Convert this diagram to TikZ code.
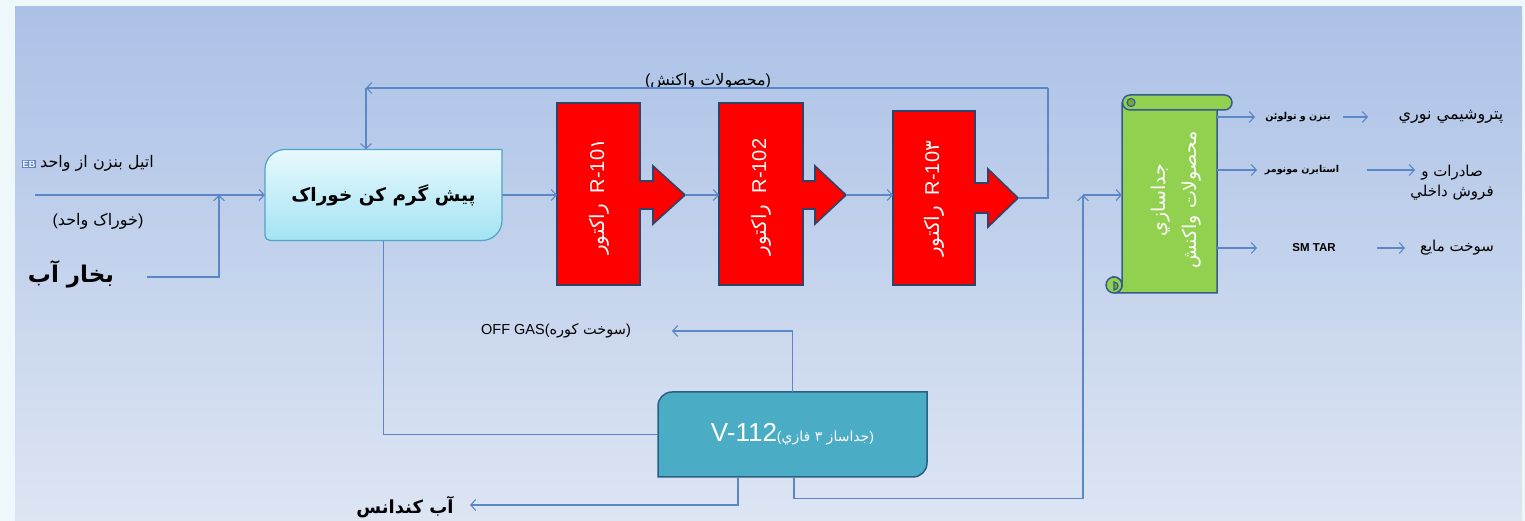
\documentclass[tikz,border=0pt]{standalone}
\usepackage{fontspec}
\setmainfont{Liberation Sans}
\newfontfamily\fa[Script=Arabic]{DejaVu Sans}
\TeXXeTstate=1
\usetikzlibrary{arrows.meta,calc}

\definecolor{bgouter}{HTML}{EEF8FA}
\definecolor{bgtop}{HTML}{ABC1E6}
\definecolor{bgbot}{HTML}{DDE5F3}
\definecolor{flow}{HTML}{5B87C6}
\definecolor{redR}{HTML}{FF0000}
\definecolor{redborder}{HTML}{2F4468}
\definecolor{phtop}{HTML}{E8F9FD}
\definecolor{phbot}{HTML}{A3E3F3}
\definecolor{phborder}{HTML}{4FA3C8}
\definecolor{vfill}{HTML}{4BACC6}
\definecolor{vborder}{HTML}{2B5F82}
\definecolor{scrollfill}{HTML}{92D050}
\definecolor{scrollborder}{HTML}{355C8C}
\definecolor{ebblue}{HTML}{5F82C8}

\newcommand\fatxt[1]{{\fa\beginR #1\endR}}

\tikzset{
  flowline/.style={draw=flow, line width=1.1pt},
  arr/.style={flowline, -{Straight Barb[length=5pt,width=11pt]}},
  lbl/.style={inner sep=0pt, text=black},
  reactorbody/.style={fill=redR, draw=redborder, line width=1.6pt, line join=miter},
  reactortext/.style={rotate=90, text=white, inner sep=0pt, font=\fontsize{20}{24}\selectfont},
  boxanchor/.style={inner sep=0pt, draw=none},
}

\begin{document}
\begin{tikzpicture}[x=1pt,y=1pt]
\useasboundingbox (0,0) rectangle (1525,521);
\fill[bgouter] (0,0) rectangle (1525,521);
\shade[top color=bgtop, bottom color=bgbot] (15,0) rectangle (1522,514);

% ---------- preheater ----------
\draw[draw=phborder, line width=1.2pt, top color=phtop, bottom color=phbot]
  (265,285.5) -- (265,351.5) arc[start angle=180, end angle=90, radius=20]
  -- (502,371.5) -- (502,300.5) arc[start angle=0, end angle=-90, radius=20]
  -- (270,280.5) arc[start angle=270, end angle=180, radius=5] -- cycle;
\node[boxanchor, minimum width=237pt, minimum height=91pt] (ph) at (383.5,326)
  {\fontsize{18.5}{22}\selectfont\bfseries\fatxt{پیش گرم کن خوراک}};

% ---------- reactors ----------
\draw[reactorbody] (557,236) -- (557,418) -- (640,418) -- (640,340) -- (653,340)
  -- (653,355) -- (685,326) -- (653,297) -- (653,312) -- (640,312) -- (640,236) -- cycle;
\draw[reactorbody] (719,236) -- (719,418) -- (803,418) -- (803,340) -- (815,340)
  -- (815,355) -- (846,326) -- (815,297) -- (815,312) -- (803,312) -- (803,236) -- cycle;
\draw[reactorbody] (893,236) -- (893,410) -- (975,410) -- (975,338) -- (988,338)
  -- (988,352) -- (1018,323) -- (988,294) -- (988,308) -- (975,308) -- (975,236) -- cycle;

\node[reactortext] (r1) at (599,324) {\fatxt{راکتور}\ \ R-10{\fa ۱}};
\node[reactortext] (r2) at (761,324) {\fatxt{راکتور}\ \ R-102};
\node[reactortext] (r3) at (934,322) {\fatxt{راکتور}\ \ R-10{\fa ۳}};

\coordinate (r1in) at (557,326);
\coordinate (r1out) at (685,326);
\coordinate (r2in) at (719,326);
\coordinate (r2out) at (846,326);
\coordinate (r3in) at (893,326);
\coordinate (r3out) at (1018,323);

% ---------- scroll separator ----------
\draw[fill=scrollfill, draw=scrollborder, line width=1.5pt]
  (1122,236) -- (1122,418) -- (1217,418) -- (1217,228) -- (1114,228)
  arc[start angle=-90, end angle=90, radius=8] -- cycle;
\draw[fill=scrollfill, draw=scrollborder, line width=1.5pt]
  (1114,228) arc[start angle=-90, end angle=270, radius=8];
\draw[draw=scrollborder, line width=1.2pt, fill=scrollfill!80!black]
  (1114,231) arc[start angle=-90, end angle=90, radius=4] -- cycle;
\draw[fill=scrollfill, draw=scrollborder, line width=1.5pt]
  (1130,411) -- (1224.5,411) arc[start angle=-90, end angle=90, radius=7.5]
  -- (1130,426) arc[start angle=90, end angle=270, radius=7.5] -- cycle;
\draw[draw=scrollborder, line width=1.2pt, fill=scrollfill!80!black]
  (1131,418.5) circle[radius=4];
\node[boxanchor, minimum width=95pt, minimum height=190pt] (sc) at (1169.5,323) {};
\node[rotate=90, text=white, align=center, inner sep=0pt,
  font=\fontsize{19}{31}\selectfont] (sctext) at (1176,321)
  {\fatxt{جداسازي}\\\fatxt{محصولات واکنش}};

% ---------- V-112 ----------
\draw[fill=vfill, draw=vborder, line width=1.5pt]
  (658,44) -- (658,115) arc[start angle=180, end angle=90, radius=14]
  -- (927,129) -- (927,58) arc[start angle=0, end angle=-90, radius=14] -- cycle;
\node[boxanchor, minimum width=269pt, minimum height=85pt] (v) at (792.5,86.5)
  {\textcolor{white}{\fontsize{26}{30}\selectfont V-112}\textcolor{white}{\fontsize{14}{16}\selectfont(\fatxt{جداساز ۳ فازي})}};

% ---------- left labels ----------
\node[inner sep=1.2pt, fill=ebblue, text=white, font=\fontsize{9}{10}\selectfont\bfseries] (eb) at (29,357) {EB};
\node[lbl, font=\fontsize{16}{18}\selectfont, anchor=west] (ebtxt) at (40,358) {\fatxt{اتیل بنزن از واحد}};
\node[lbl, font=\fontsize{16}{18}\selectfont] (feedlbl) at (98,300) {(\fatxt{خوراک واحد})};
\node[lbl, font=\fontsize{23}{26}\selectfont\bfseries] (steam) at (71,247) {\fatxt{بخار آب}};

\coordinate (feedstart) at (35,326);
\coordinate (steamstart) at (147,244);
\coordinate (steamjoin) at (219,326);

% ---------- other labels ----------
\node[lbl, font=\fontsize{16}{18}\selectfont] (recyc) at (708,440) {(\fatxt{محصولات واکنش})};
\node[lbl, font=\fontsize{14.5}{16}\selectfont] (offgas) at (556,190) {OFF GAS(\fatxt{سوخت کوره})};
\node[lbl, font=\fontsize{18}{21}\selectfont\bfseries] (cond) at (405,14) {\fatxt{آب کندانس}};

\coordinate (fbA) at (1048,433);
\coordinate (fbB) at (366,433);
\coordinate (offgasend) at (672,190);
\coordinate (condend) at (470,16);
\coordinate (prodturn) at (1083,326);

% ---------- right labels ----------
\node[lbl, font=\fontsize{9.5}{11}\selectfont\bfseries] (bt) at (1298,404) {\fatxt{بنزن و تولوئن}};
\node[lbl, font=\fontsize{16}{18}\selectfont] (petro) at (1451,404) {\fatxt{پتروشيمي نوري}};
\node[lbl, font=\fontsize{9.5}{11}\selectfont\bfseries] (sm) at (1302,351) {\fatxt{استایرن مونومر}};
\node[lbl, font=\fontsize{15}{20}\selectfont, align=center] (exp) at (1452,338) {\fatxt{صادرات و}\\\fatxt{فروش داخلي}};
\node[lbl, font=\fontsize{11.5}{13}\selectfont\bfseries] (tar) at (1314,273) {SM TAR};
\node[lbl, font=\fontsize{15}{17}\selectfont] (fuel) at (1457,273) {\fatxt{سوخت مایع}};

\coordinate (o1a) at (1217,404); \coordinate (o1b) at (1255,404);
\coordinate (o1c) at (1343,404); \coordinate (o1d) at (1368,404);
\coordinate (o2a) at (1217,351); \coordinate (o2b) at (1257,351);
\coordinate (o2c) at (1367,351); \coordinate (o2d) at (1415,351);
\coordinate (o3a) at (1217,273); \coordinate (o3b) at (1257,273);
\coordinate (o3c) at (1377,273); \coordinate (o3d) at (1405,273);

% ---------- connectors ----------
\draw[arr] (feedstart) -- (ph.west |- feedstart);
\draw[arr] (steamstart) -| (steamjoin);
\draw[arr] (ph.east) -- (r1in);
\draw[arr] (r1out) -- (r2in);
\draw[arr] (r2out) -- (r3in);
\draw[flowline] (r3out) -| (fbA);
\draw[arr] (fbA) -- (fbB);
\draw[arr] (fbB) -- (fbB |- ph.north);
\draw[flowline] (ph.south) |- (v.west);
\draw[arr] (v.north) |- (offgasend);
\draw[arr] ([xshift=-54.5pt]v.south) |- (condend);
\draw[arr] ([xshift=1.5pt]v.south) -- ++(0,-21) -| (prodturn);
\draw[arr] (prodturn) -- (prodturn -| sc.west);
\draw[arr] (o1a) -- (o1b);
\draw[arr] (o1c) -- (o1d);
\draw[arr] (o2a) -- (o2b);
\draw[arr] (o2c) -- (o2d);
\draw[arr] (o3a) -- (o3b);
\draw[arr] (o3c) -- (o3d);
\end{tikzpicture}
\end{document}
